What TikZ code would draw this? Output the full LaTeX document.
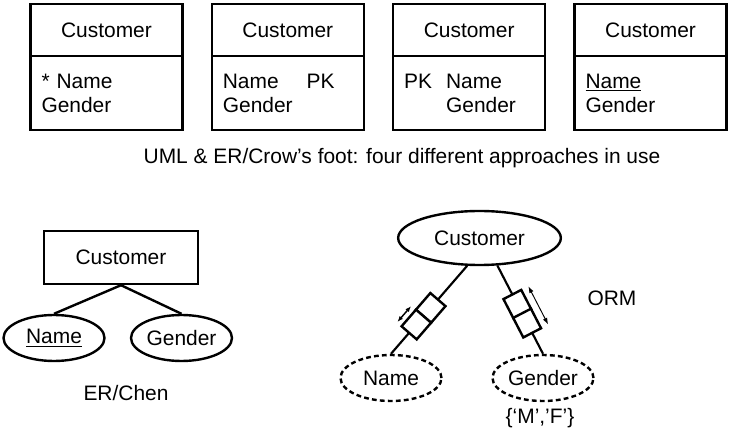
\documentclass[tikz,border=0pt]{standalone}
\usepackage{fontspec}
\setmainfont{Liberation Sans}
\usetikzlibrary{arrows.meta,positioning,calc,shapes.geometric}

\begin{document}
\begin{tikzpicture}[x=.75pt,y=-.75pt,>=Latex,line width=1.8pt,node distance=22pt,every node/.style={font=\fontsize{15.7}{18}\selectfont}]
\tikzstyle{hd}=[draw,outer sep=0pt,minimum width=114pt,minimum height=39pt]
\tikzstyle{bd}=[draw,outer sep=0pt,minimum width=114pt,minimum height=55.5pt,text width=97.5pt,inner xsep=8.25pt,align=left]
\tikzstyle{ent}=[draw,minimum width=115.5pt,minimum height=39.75pt]
\tikzstyle{att}=[draw,ellipse,inner sep=0pt,minimum width=75.75pt,minimum height=34.5pt]
\tikzstyle{val}=[att,dash pattern=on 3.6pt off 2.4pt]
\tikzstyle{role}=[draw,fill=white,sloped,outer sep=0pt,minimum width=16.5pt,minimum height=15pt,inner sep=0pt]
\useasboundingbox (0,0) rectangle (735,434);
% UML & crow's foot
\node[hd] (h1) at (106.5,30) {Customer};
\node[bd,below=0pt of h1] (b1) {* Name\\Gender};
\node[hd,right=of h1] (h2) {Customer};
\node[bd,below=0pt of h2] (b2) {Name\hspace{21pt}PK\\Gender};
\node[hd,right=of h2] (h3) {Customer};
\node[bd,below=0pt of h3] (b3) {PK\hspace{10.5pt}Name\\\phantom{PK}\hspace{10.5pt}Gender};
\node[hd,right=of h3] (h4) {Customer};
\node[bd,below=0pt of h4] (b4) {\underline{Name}\\Gender};
\node (cap1) at (402,158) {UML \& ER/Crow’s foot: four different approaches in use};
% ER/Chen
\node[ent] (ce) at (121,257.5) {Customer};
\node[att] (cn) at (54,338) {\underline{Name}};
\node[att] (cg) at (181.5,338) {Gender};
\draw (ce.south) -- (cn.north);
\draw (ce.south) -- (cg.north);
\node (cap2) at (126,393) {ER/Chen};
% ORM
\node[att,minimum width=122pt,minimum height=40.5pt] (oc) at (479.5,238) {Customer};
\node[val] (on) at (391,378) {Name};
\node[val] (og) at (543,378) {Gender};
\node (vals) at (540,418) {\{‘M’,’F’\}};
\node (cap3) at (612,298) {ORM};
\draw[line width=1.6pt] (oc.246) -- node[role,line width=1.8pt,pos=.478] (nA1) {} node[role,line width=1.8pt,pos=.667] (nA2) {} (on.north);
\draw[line width=1.6pt] (oc.303) -- node[role,line width=1.8pt,pos=.439] (nB1) {} node[role,line width=1.8pt,pos=.652] (nB2) {} (og.north);
\coordinate (a1) at ($(nA2.center)!7.9pt!(nA1.center)$);
\coordinate (a2) at ($(nA2.center)!-7.9pt!(nA1.center)$);
\coordinate (ua1) at ($(a1)!12pt!90:(nA1.center)$);
\coordinate (ua2) at ($(a2)!12pt!90:(nA2.center)$);
\draw[{Latex[length=4.5pt]}-{Latex[length=4.5pt]},line width=1.1pt] (ua1) -- (ua2);
\coordinate (e1) at ($(nB1.center)!-8.25pt!(nB2.center)$);
\coordinate (e2) at ($(nB2.center)!-8.25pt!(nB1.center)$);
\coordinate (ub1) at ($(e1)!13.5pt!90:(nB2.center)$);
\coordinate (ub2) at ($(e2)!13.5pt!-90:(nB1.center)$);
\draw[{Latex[length=5pt,width=3.5pt]}-{Latex[length=5pt,width=3.5pt]},line width=.7pt] (ub1) -- (ub2);
\end{tikzpicture}
\end{document}
